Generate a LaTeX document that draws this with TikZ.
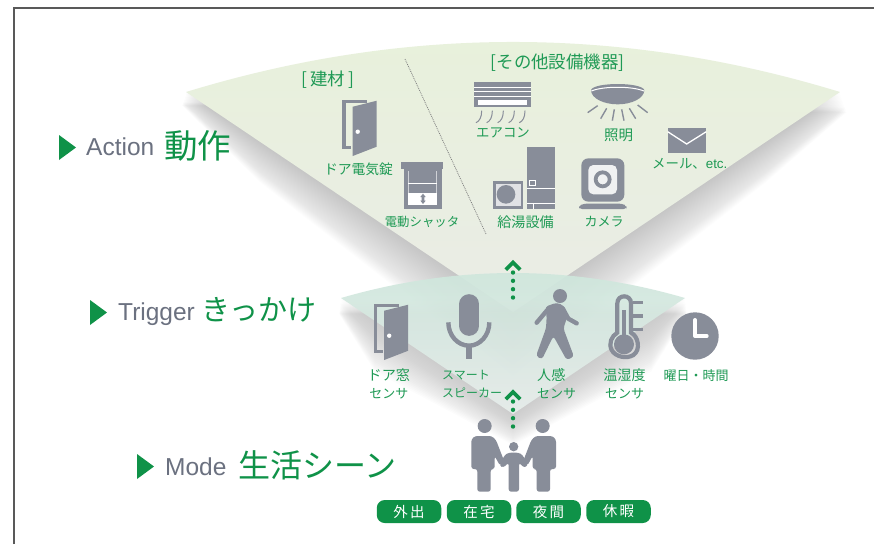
\documentclass[tikz,border=0pt]{standalone}
\usepackage{fontspec}
\setmainfont{Liberation Sans}
\newfontfamily\jp{Noto Sans CJK JP}
\newfontfamily\hv{Liberation Sans}
\definecolor{hgreen}{HTML}{0F9248}
\definecolor{lgreen}{HTML}{1F9A55}
\definecolor{icon}{HTML}{888D99}
\definecolor{hgray}{HTML}{6B7180}
\newcommand{\kj}{\fontsize{14.1}{18}\selectfont}
\newcommand{\ks}{\fontsize{13}{18}\selectfont}
\newcommand{\kn}{\fontsize{12}{18}\selectfont}
\tikzset{
 za/.style={shift={(180,30)},x=0.33333pt,y=-0.33333pt},
 zb/.style={shift={(470,40)},x=0.33333pt,y=-0.33333pt},
 zc/.style={shift={(340,260)},x=0.33333pt,y=-0.33333pt},
 zd/.style={shift={(360,400)},x=0.33333pt,y=-0.33333pt},
 lab/.style={inner sep=0pt,text=lgreen,font=\jp\ks},
 headj/.style={inner sep=0pt,anchor=west,text=hgreen},
 heade/.style={inner sep=0pt,anchor=west,text=hgray,font=\hv\fontsize{24.5}{26}\selectfont},
 pill/.style={inner sep=0pt,fill=hgreen,text=white,rounded corners=8pt,minimum width=64.5pt,minimum height=23pt,font=\jp\fontsize{14.5}{16}\selectfont},
 tri/.style={fill=hgreen,draw=none},
 dotline/.style={hgreen,line width=4.4pt,line cap=round,dash pattern=on 0pt off 8.33pt},
 chevron/.style={hgreen,line width=3.8pt,miter limit=10},
 ic/.style={fill=icon,draw=none},
 icl/.style={draw=icon,fill=none},
}
\newcommand{\dooricon}{%
 \draw[icl,line width=3.3pt] (367,101.6) -- (344,101.6) -- (344,147.5) -- (351,147.5);
 \fill[ic] (352.7,106.7) -- (376.7,100.7) -- (376.7,146.7) -- (352.7,156) -- cycle;
 \fill[white] (357.7,131.7) circle (2.2);
}
\begin{document}
\begin{tikzpicture}[x=1pt,y=-1pt]
\useasboundingbox (0,0) rectangle (874,544);
\fill[white] (0,0) rectangle (874,544);
% frame
\coordinate (fa) at (14,544);
\coordinate (fb) at (14,8);
\coordinate (fc) at (874,8);
\draw[line width=1.1pt,draw=black!65] (fa) -- (fb) -- (fc);
% action shadow
\foreach \d in {0,1.5,...,68}{
  \pgfmathsetmacro{\aop}{0.002+0.0052*\d/68}
  \fill[black,fill opacity=\aop] ({186-0.06*\d},{92+0.2*\d}) -- (260,{141.8+0.6*\d}) -- (513,{312+\d}) -- (766,{141.8+0.6*\d}) -- ({840+0.1*\d},{92+0.3*\d}) -- cycle;
}
% action fan
\shade[shading=axis,top color={rgb,255:red,232;green,241;blue,219},bottom color={rgb,255:red,234;green,236;blue,230}]
  (186,92) .. controls (404,25.3) and (622,25.3) .. (840,92) -- (513,312) -- cycle;
% trigger shadow
\foreach \d in {0,1.5,...,40}{
  \pgfmathsetmacro{\aop}{0.003+0.009*\d/40}
  \fill[black,fill opacity=\aop] ({341-0.05*\d},{298+0.4*\d}) -- (375,{321+1.3*\d}) -- (513,{414+0.8*\d}) -- (651,{321+1.3*\d}) -- ({685+0.05*\d},{298+0.4*\d}) -- cycle;
}
% trigger fan
\shade[shading=axis,fill opacity=0.92,top color={rgb,255:red,205;green,230;blue,219},bottom color={rgb,255:red,232;green,238;blue,236}]
  (341,298) .. controls (455.7,264.7) and (570.3,264.7) .. (685,298) -- (513,414) -- cycle;
% divider
\coordinate (da) at (405,59);
\coordinate (db) at (486,234);
\draw[draw=black!50,line width=0.8pt,dash pattern=on 0.9pt off 1pt] (da) -- (db);
% section labels
\node[lab,font=\jp\fontsize{17.4}{20}\selectfont] (lkenzai) at (328,80) {[\,建材\,]};
\node[lab,font=\jp\fontsize{17.4}{20}\selectfont] (lsonota) at (557.5,63) {[その他設備機器]};
% door
\dooricon
\node[lab,font=\jp\fontsize{13.8}{18}\selectfont] (ldoor) at (358.5,169) {ドア電気錠};
% shutter
\begin{scope}[za]
 \fill[ic] (663,396) rectangle (790,416);
 \fill[ic] (672,416) rectangle (785,537);
 \fill[white] (685,488) rectangle (770,525);
 \draw[white,line width=0.9pt] (685,460) -- (770,460);
 \draw[white,opacity=0.6,line width=0.4pt] (685,424) -- (685,488) (770,424) -- (770,488);
 \fill[ic] (729,491) -- (737,501) -- (733,501) -- (733,512) -- (737,512) -- (729,522) -- (721,512) -- (725,512) -- (725,501) -- (721,501) -- cycle;
\end{scope}
\node[lab,font=\jp\fontsize{12.4}{18}\selectfont] (lshutter) at (422,222) {電動シャッタ};
% AC
\begin{scope}[zb]
 \fill[ic] (12,127) rectangle (183,200);
 \foreach \y in {143,155,168}{\draw[white,line width=0.8pt] (12,\y) -- (183,\y);}
 \fill[white] (25,180) rectangle (170,195);
 \foreach \dx in {0,32,65,98,130}{
  \draw[icl,line width=1pt] ({35+\dx},212) .. controls ({35+\dx},232) and ({28+\dx},244) .. ({18+\dx},248);}
\end{scope}
\node[lab,font=\jp\fontsize{13.4}{18}\selectfont] (lac) at (503,133) {エアコン};
% light
\begin{scope}[zb]
 \fill[ic] (363,150) .. controls (372,126) and (514,126) .. (523,150) .. controls (523,175) and (485,193) .. (443,193) .. controls (401,193) and (363,175) .. (363,150) -- cycle;
 \draw[white,line width=1pt] (364,153) .. controls (400,138) and (485,138) .. (522,153);
 \draw[icl,line width=1.4pt] (383,197) -- (353,218) (410,205) -- (392,236) (433,208) -- (427,242) (455,208) -- (462,242) (478,205) -- (497,236) (503,195) -- (533,218);
\end{scope}
\node[lab,font=\jp\fontsize{14.5}{18}\selectfont] (llight) at (618.5,135) {照明};
% mail
\begin{scope}[zb]
 \fill[ic] (593,265) rectangle (709,340);
 \draw[white,line width=1.3pt] (593,275) -- (650,312) -- (709,275);
\end{scope}
\node[lab,anchor=west,font=\jp\fontsize{13.4}{18}\selectfont] (lmail) at (652,164) {メール、\hv etc.};
% water heater
\begin{scope}[zb]
 \fill[ic] (70,424) rectangle (160,507);
 \fill[white,fill opacity=0.75] (79,433) rectangle (152,499);
 \fill[ic] (108,463) circle (28);
 \fill[ic] (171,322) rectangle (256,507);
 \draw[white,line width=0.9pt] (171,445) -- (256,445) (171,490) -- (256,490) (190,490) -- (190,507);
 \draw[white,line width=0.7pt] (179,420) rectangle (196,436);
\end{scope}
\node[lab,font=\jp\kj] (lheater) at (525.5,222) {給湯設備};
% camera
\begin{scope}[zb]
 \fill[ic,rounded corners=7pt] (334,355) rectangle (463,485);
 \fill[white,fill opacity=0.88,rounded corners=5pt] (355,375) rectangle (441,463);
 \draw[icl,line width=3.8pt] (398,418) circle (21);
 \fill[ic,rounded corners=3pt] (327,507) -- (327,498) -- (340,491) -- (457,491) -- (470,498) -- (470,507) -- cycle;
\end{scope}
\node[lab] (lcamera) at (604,222) {カメラ};
% chevrons and dotted arrows
\coordinate (ua) at (513,297.5);
\coordinate (ub) at (513,271.5);
\draw[dotline] (ua) -- (ub);
\coordinate (uc) at (513,262.5);
\draw[chevron] (505.8,269.7) -- (uc) -- (520.2,269.7);
\coordinate (la) at (513,426.5);
\coordinate (lb) at (513,400.5);
\draw[dotline] (la) -- (lb);
\coordinate (lc) at (513,392);
\draw[chevron] (505.8,399.2) -- (lc) -- (520.2,399.2);
% trigger door
\begin{scope}[xshift=31.5pt,yshift=-204pt]
\dooricon
\end{scope}
\node[lab,align=center] (ldoorw) at (388.8,384) {\kj ドア窓\\\ks センサ};
% mic
\draw[ic,draw=icon,line width=19.7pt,line cap=round] (469.2,304) -- (469.2,326);
\begin{scope}[zc]
 \draw[icl,line width=4.4pt] (325,187) .. controls (325,226) and (353,257) .. (387,257) .. controls (420,257) and (448,226) .. (448,187);
 \fill[ic] (378,257) rectangle (397,298);
\end{scope}
\node[lab,align=left,anchor=west] (lspk) at (442,384) {\kn スマート\\\kn スピーカー};
% walker
\begin{scope}[zc]
 \fill[ic] (660,108) circle (21);
 \fill[ic,rounded corners=3pt] (616,140) -- (650,128) -- (670,136) -- (684,165) -- (670,205) -- (702,290) -- (680,300) -- (640,228) -- (606,298) -- (588,288) -- (618,205) -- (620,170) -- cycle;
 \draw[icl,line width=4.4pt,line cap=round,line join=round] (622,150) -- (590,188);
 \draw[icl,line width=4.4pt,line cap=round,line join=round] (668,145) -- (685,176) -- (710,190);
\end{scope}
\node[lab,align=left,anchor=west] (lhuman) at (537,384) {\kj 人感\\\ks センサ};
% thermometer
\begin{scope}[zc]
 \draw[icl,line width=4.2pt] (832,218) -- (832,130) .. controls (832,102) and (873,102) .. (873,130) -- (873,218)
   .. controls (895,228) and (903,270) .. (880,285) .. controls (860,298) and (825,290) .. (815,270) .. controls (805,250) and (815,228) .. (832,218) -- cycle;
 \fill[ic] (852,253) circle (30);
 \fill[ic] (847,150) rectangle (858,240);
 \draw[icl,line width=3.4pt] (878,128) -- (908,128) (878,168) -- (908,168) (878,208) -- (908,208);
\end{scope}
\node[lab,align=center] (ltemp) at (624.5,384) {\kj 温湿度\\\ks センサ};
% clock
\fill[ic] (695,336) circle (23.7);
\begin{scope}[zc]
 \draw[white,line width=4pt,line cap=round,line join=round] (1065,180) -- (1065,228) -- (1100,228);
\end{scope}
\node[lab] (lclock) at (696,376) {曜日・時間};
% family
\begin{scope}[zd]
 \fill[ic] (374,78) circle (21);
 \fill[ic] (548,78) circle (21);
 \fill[ic] (461,140) circle (14);
 \fill[ic,rounded corners=2.5pt] (334,118) -- (345,108) -- (395,108) -- (408,120) -- (432,182) -- (420,197) -- (404,168) -- (404,207) -- (392,207) -- (392,275) -- (352,275) -- (352,207) -- (334,207) -- cycle;
 \fill[ic,rounded corners=2.5pt] (588,118) -- (577,108) -- (527,108) -- (514,120) -- (490,182) -- (502,197) -- (518,168) -- (518,207) -- (530,207) -- (530,275) -- (570,275) -- (570,207) -- (588,207) -- cycle;
 \fill[ic,rounded corners=2.5pt] (418,197) -- (430,203) -- (446,188) -- (446,275) -- (477,275) -- (477,188) -- (492,203) -- (504,197) -- (488,165) -- (476,158) -- (446,158) -- (434,165) -- cycle;
\end{scope}
% pills
\node[pill] (p1) at (409,511.5) {外\,出};
\node[pill] (p2) at (479,511.5) {在\,宅};
\node[pill] (p3) at (548.5,511.5) {夜\,間};
\node[pill] (p4) at (618.5,511.5) {休\,暇};
% headings
\fill[tri] (59,135) -- (76,147.5) -- (59,160) -- cycle;
\fill[tri] (90,300) -- (107,312.5) -- (90,325) -- cycle;
\fill[tri] (137,454) -- (154,466.5) -- (137,479) -- cycle;
\node[heade] (ha) at (86,147) {Action};
\node[headj,font=\jp\fontsize{33.5}{36}\selectfont] (hb) at (164,146) {動作};
\node[heade] (ta) at (118,314) {Trigger};
\node[headj,font=\jp\fontsize{29}{32}\selectfont] (tb) at (201.5,310) {きっかけ};
\node[heade] (ma) at (165,466.5) {Mode};
\node[headj,font=\jp\fontsize{32}{34}\selectfont] (mb) at (238,465) {生活シーン};
\end{tikzpicture}
\end{document}
